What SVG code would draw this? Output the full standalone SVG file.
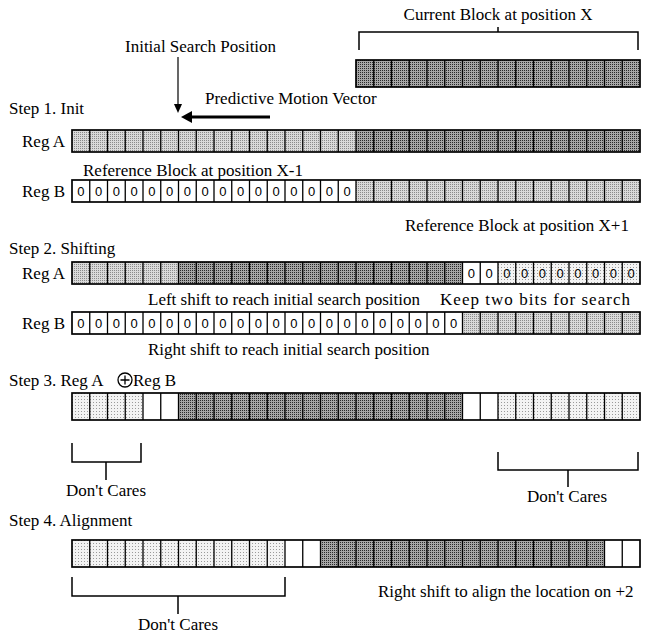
<svg xmlns="http://www.w3.org/2000/svg" xmlns:xlink="http://www.w3.org/1999/xlink" width="645" height="637" viewBox="0 0 645 637">
<style>
.t{font-family:"Liberation Serif","Times New Roman",serif;font-size:17px;fill:#000}
.z{font-family:"Liberation Sans",Arial,sans-serif;font-size:13px;fill:#000;text-anchor:middle}
.dk{fill:url(#pDark)}
.lt{fill:url(#pLight)}
.ft{fill:url(#pFaint)}
.wh{fill:#fff}
.sep{stroke:#000;stroke-width:1.3;fill:none}
.box{fill:none;stroke:#000;stroke-width:1.7}
.ln{fill:none;stroke:#000;stroke-width:1.5}
</style>
<defs>
<pattern id="pDark" x="0" y="0" width="2" height="2" patternUnits="userSpaceOnUse"><rect width="2" height="2" fill="#a6a6a6"/><rect width="1" height="1" fill="#2a2a2a"/></pattern>
<pattern id="pLight" x="0" y="0" width="2" height="2" patternUnits="userSpaceOnUse"><rect width="2" height="2" fill="#d9d9d9"/><rect width="1" height="1" fill="#8a8a8a"/></pattern>
<pattern id="pFaint" x="0" y="0" width="3" height="3" patternUnits="userSpaceOnUse"><rect width="3" height="3" fill="#f3f3f3"/><rect width="1" height="1" fill="#9a9a9a"/></pattern>
<path id="sep22" d="M89.75 0v22M107.5 0v22M125.25 0v22M143 0v22M160.75 0v22M178.5 0v22M196.25 0v22M214 0v22M231.75 0v22M249.5 0v22M267.25 0v22M285 0v22M302.75 0v22M320.5 0v22M338.25 0v22M356 0v22M373.75 0v22M391.5 0v22M409.25 0v22M427 0v22M444.75 0v22M462.5 0v22M480.25 0v22M498 0v22M515.75 0v22M533.5 0v22M551.25 0v22M569 0v22M586.75 0v22M604.5 0v22M622.25 0v22"/>
<path id="sep27" d="M89.75 0v27M107.5 0v27M125.25 0v27M143 0v27M160.75 0v27M178.5 0v27M196.25 0v27M214 0v27M231.75 0v27M249.5 0v27M267.25 0v27M285 0v27M302.75 0v27M320.5 0v27M338.25 0v27M356 0v27M373.75 0v27M391.5 0v27M409.25 0v27M427 0v27M444.75 0v27M462.5 0v27M480.25 0v27M498 0v27M515.75 0v27M533.5 0v27M551.25 0v27M569 0v27M586.75 0v27M604.5 0v27M622.25 0v27"/>
</defs>
<rect width="645" height="637" fill="#fff"/>

<g id="current-block">
<text class="t" x="498" y="20" text-anchor="middle">Current Block at position X</text>
<path class="ln" d="M359 50V32H638V50M498 32V27"/>
<rect class="dk" x="356" y="60" width="284" height="27"/>
<path class="sep" d="M373.75 60v27M391.5 60v27M409.25 60v27M427 60v27M444.75 60v27M462.5 60v27M480.25 60v27M498 60v27M515.75 60v27M533.5 60v27M551.25 60v27M569 60v27M586.75 60v27M604.5 60v27M622.25 60v27"/>
<rect class="box" x="356" y="60" width="284" height="27"/>
</g>

<g id="annotations">
<text class="t" x="125" y="52">Initial Search Position</text>
<text class="t" x="205" y="104">Predictive Motion Vector</text>
</g>

<g id="connectors">
<path d="M178 57V104" stroke="#000" stroke-width="1.2" fill="none"/>
<polygon points="174,104 182,104 178,113" fill="#000"/>
<path d="M270 117H191" stroke="#000" stroke-width="3" fill="none"/>
<polygon points="192,111 192,123 181,117" fill="#000"/>
</g>

<g id="step1">
<text class="t" x="9" y="114">Step 1. Init</text>
<text class="t" x="65" y="147" text-anchor="end">Reg A</text>
<g id="step1-regA">
<rect class="lt" x="72" y="130" width="284" height="22"/>
<rect class="dk" x="356" y="130" width="284" height="22"/>
<use xlink:href="#sep22" class="sep" y="130"/>
<rect class="box" x="72" y="130" width="568" height="22"/>
</g>
<text class="t" x="83" y="176">Reference Block at position X-1</text>
<text class="t" x="65" y="197" text-anchor="end">Reg B</text>
<g id="step1-regB">
<rect class="wh" x="72" y="180" width="284" height="22"/>
<rect class="lt" x="356" y="180" width="284" height="22"/>
<use xlink:href="#sep22" class="sep" y="180"/>
<rect class="box" x="72" y="180" width="568" height="22"/>
<text class="z" x="80.875 98.625 116.375 134.125 151.875 169.625 187.375 205.125 222.875 240.625 258.375 276.125 293.875 311.625 329.375 347.125" y="195.5">0000000000000000</text>
</g>
<text class="t" x="405" y="231">Reference Block at position X+1</text>
</g>

<g id="step2">
<text class="t" x="9" y="254">Step 2. Shifting</text>
<text class="t" x="65" y="279" text-anchor="end">Reg A</text>
<g id="step2-regA">
<rect class="lt" x="72" y="262" width="106.5" height="22"/>
<rect class="dk" x="178.5" y="262" width="284" height="22"/>
<rect class="wh" x="462.5" y="262" width="35.5" height="22"/>
<rect class="ft" x="498" y="262" width="142" height="22"/>
<use xlink:href="#sep22" class="sep" y="262"/>
<rect class="box" x="72" y="262" width="568" height="22"/>
<text class="z" x="471.375 489.125 506.875 524.625 542.375 560.125 577.875 595.625 613.375 631.125" y="277.5">0000000000</text>
</g>
<text class="t" x="148" y="305">Left shift to reach initial search position</text>
<text class="t" x="440" y="305" textLength="190" lengthAdjust="spacing">Keep two bits for search</text>
<text class="t" x="65" y="329" text-anchor="end">Reg B</text>
<g id="step2-regB">
<rect class="wh" x="72" y="312" width="390.5" height="22"/>
<rect class="lt" x="462.5" y="312" width="177.5" height="22"/>
<use xlink:href="#sep22" class="sep" y="312"/>
<rect class="box" x="72" y="312" width="568" height="22"/>
<text class="z" x="80.875 98.625 116.375 134.125 151.875 169.625 187.375 205.125 222.875 240.625 258.375 276.125 293.875 311.625 329.375 347.125 364.875 382.625 400.375 418.125 435.875 453.625" y="327.5">0000000000000000000000</text>
</g>
<text class="t" x="148" y="355">Right shift to reach initial search position</text>
</g>

<g id="step3">
<text class="t" x="9" y="386">Step 3. Reg A</text>
<circle cx="125" cy="380" r="7" fill="none" stroke="#000" stroke-width="1.3"/>
<path d="M125 375.5v9M120.5 380h9" stroke="#000" stroke-width="1.3"/>
<text class="t" x="133" y="386">Reg B</text>
<g id="step3-row">
<rect class="ft" x="72" y="393" width="71" height="27"/>
<rect class="wh" x="143" y="393" width="35.5" height="27"/>
<rect class="dk" x="178.5" y="393" width="284" height="27"/>
<rect class="wh" x="462.5" y="393" width="35.5" height="27"/>
<rect class="ft" x="498" y="393" width="142" height="27"/>
<use xlink:href="#sep27" class="sep" y="393"/>
<rect class="box" x="72" y="393" width="568" height="27"/>
</g>
<path class="ln" d="M72 443V462H141V443M106 462V480"/>
<text class="t" x="106" y="496" text-anchor="middle">Don't Cares</text>
<path class="ln" d="M498 452V470H638V452M568 470V487"/>
<text class="t" x="567" y="502" text-anchor="middle">Don't Cares</text>
</g>

<g id="step4">
<text class="t" x="9" y="526">Step 4. Alignment</text>
<g id="step4-row">
<rect class="ft" x="72" y="540" width="213" height="27"/>
<rect class="wh" x="285" y="540" width="35.5" height="27"/>
<rect class="dk" x="320.5" y="540" width="284" height="27"/>
<rect class="wh" x="604.5" y="540" width="35.5" height="27"/>
<use xlink:href="#sep27" class="sep" y="540"/>
<rect class="box" x="72" y="540" width="568" height="27"/>
</g>
<path class="ln" d="M72 577V596H285V577M178 596V614"/>
<text class="t" x="178" y="630" text-anchor="middle">Don't Cares</text>
<text class="t" x="378" y="597">Right shift to align the location on +2</text>
</g>
</svg>
